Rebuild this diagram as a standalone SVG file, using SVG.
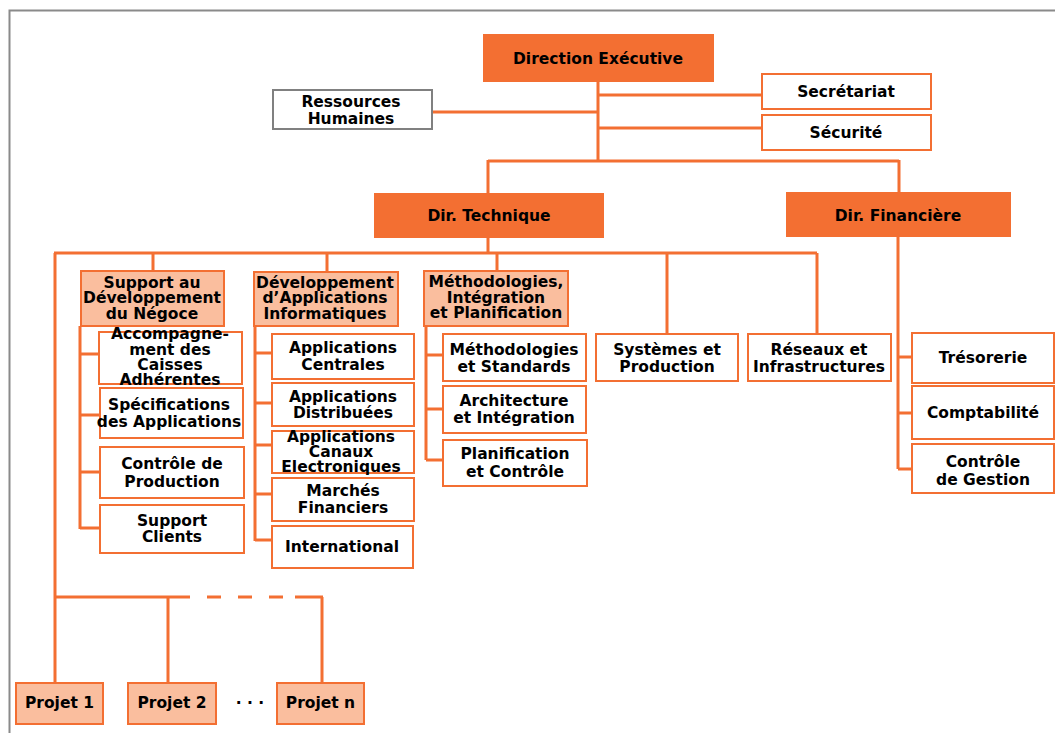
<svg xmlns="http://www.w3.org/2000/svg" width="1055" height="733" viewBox="0 0 1055 733">
<style>
text{font-family:"DejaVu Sans","Verdana",sans-serif;font-weight:bold;font-size:15.5px;fill:#000;text-anchor:middle}
.dark{fill:#F36F32;stroke:#F36F32;stroke-width:2}
.light{fill:#FABE9E;stroke:#F36F32;stroke-width:2}
.box{fill:#fff;stroke:#F36F32;stroke-width:2}
.gray{fill:#fff;stroke:#808080;stroke-width:2}
.ln{stroke:#F36F32;stroke-width:3;fill:none}
</style>
<rect width="1055" height="733" fill="#fff"/>
<path d="M9.5 733V10.5H1055" fill="none" stroke="#8a8a8a" stroke-width="2"/>
<g id="connectors" class="ln">
<path d="M598 81V161M488 161H899M488 160V194M899 160V193"/>
<path d="M432 112H598M598 95H762M598 128H762"/>
<path d="M488 237V253M54 253H817M153 253V271M327 253V272M497 253V271M667 253V334M817 253V334"/>
<path d="M55 253V683"/>
<path d="M80 326V529M80 354H99M80 415H100M80 472H100M80 528H100"/>
<path d="M255 326V541M255 353H272M255 403H272M255 445H272M255 494H272M255 540H272"/>
<path d="M426 326V460M426 355H443M426 409H443M426 460H443"/>
<path d="M898 236V469M898 357H912M898 413H912M898 469H912"/>
<path d="M55 597H190M295 597H323"/>
<path d="M190 597H295" stroke-dasharray="0 17 14 17 14 17 14 12"/>
<path d="M168 597V683M322 597V683"/>
</g>
<g id="direction"><rect class="dark" x="484" y="35" width="229" height="46"/><text x="598" y="64">Direction Exécutive</text></g>
<g id="rh"><rect class="gray" x="273" y="90" width="159" height="39"/><text x="351" y="107">Ressources</text><text x="351" y="124">Humaines</text></g>
<g id="secretariat"><rect class="box" x="762" y="74" width="169" height="35"/><text x="846" y="97">Secrétariat</text></g>
<g id="securite"><rect class="box" x="762" y="115" width="169" height="35"/><text x="846" y="138">Sécurité</text></g>
<g id="dirtech"><rect class="dark" x="375" y="194" width="228" height="43"/><text x="489" y="221">Dir. Technique</text></g>
<g id="dirfin"><rect class="dark" x="787" y="193" width="223" height="43"/><text x="898" y="221">Dir. Financière</text></g>
<g id="support"><rect class="light" x="81" y="271" width="143" height="55"/><text x="152" y="288">Support au</text><text x="152" y="303">Développement</text><text x="152" y="319">du Négoce</text></g>
<g id="devapp"><rect class="light" x="254" y="272" width="144" height="54"/><text x="325" y="288">Développement</text><text x="325" y="303">d’Applications</text><text x="325" y="319">Informatiques</text></g>
<g id="methint"><rect class="light" x="424" y="271" width="144" height="55"/><text x="496" y="287">Méthodologies,</text><text x="496" y="303">Intégration</text><text x="496" y="318">et Planification</text></g>
<g id="accomp"><rect class="box" x="99" y="332" width="143" height="52"/><text x="170" y="339">Accompagne-</text><text x="170" y="355">ment des</text><text x="170" y="370">Caisses</text><text x="170" y="385">Adhérentes</text></g>
<g id="specs"><rect class="box" x="100" y="388" width="143" height="50"/><text x="169" y="410">Spécifications</text><text x="169" y="427">des Applications</text></g>
<g id="controleprod"><rect class="box" x="100" y="447" width="144" height="51"/><text x="172" y="469">Contrôle de</text><text x="172" y="487">Production</text></g>
<g id="supportclients"><rect class="box" x="100" y="505" width="144" height="48"/><text x="172" y="526">Support</text><text x="172" y="542">Clients</text></g>
<g id="appcentrales"><rect class="box" x="272" y="334" width="142" height="45"/><text x="343" y="353">Applications</text><text x="343" y="370">Centrales</text></g>
<g id="appdistrib"><rect class="box" x="272" y="383" width="142" height="43"/><text x="343" y="402">Applications</text><text x="343" y="418">Distribuées</text></g>
<g id="appcanaux"><rect class="box" x="272" y="431" width="142" height="42"/><text x="341" y="442">Applications</text><text x="341" y="457">Canaux</text><text x="341" y="472">Electroniques</text></g>
<g id="marches"><rect class="box" x="272" y="478" width="142" height="43"/><text x="343" y="496">Marchés</text><text x="343" y="513">Financiers</text></g>
<g id="international"><rect class="box" x="272" y="526" width="141" height="42"/><text x="342" y="552">International</text></g>
<g id="methstd"><rect class="box" x="443" y="334" width="143" height="47"/><text x="514" y="355">Méthodologies</text><text x="514" y="372">et Standards</text></g>
<g id="archi"><rect class="box" x="443" y="386" width="143" height="47"/><text x="514" y="406">Architecture</text><text x="514" y="423">et Intégration</text></g>
<g id="planif"><rect class="box" x="443" y="440" width="144" height="46"/><text x="515" y="459">Planification</text><text x="515" y="477">et Contrôle</text></g>
<g id="systemes"><rect class="box" x="596" y="334" width="142" height="47"/><text x="667" y="355">Systèmes et</text><text x="667" y="372">Production</text></g>
<g id="reseaux"><rect class="box" x="748" y="334" width="143" height="47"/><text x="819" y="355">Réseaux et</text><text x="819" y="372">Infrastructures</text></g>
<g id="tresorerie"><rect class="box" x="912" y="333" width="142" height="50"/><text x="983" y="363">Trésorerie</text></g>
<g id="compta"><rect class="box" x="912" y="386" width="142" height="53"/><text x="983" y="418">Comptabilité</text></g>
<g id="controlegestion"><rect class="box" x="912" y="444" width="142" height="49"/><text x="983" y="467">Contrôle</text><text x="983" y="485">de Gestion</text></g>
<g id="projet1"><rect class="light" x="16" y="683" width="87" height="41"/><text x="59.5" y="708">Projet 1</text></g>
<g id="projet2"><rect class="light" x="128" y="683" width="88" height="41"/><text x="172" y="708">Projet 2</text></g>
<g id="dots"><text x="250" y="708">· · ·</text></g>
<g id="projetn"><rect class="light" x="277" y="683" width="87" height="41"/><text x="320.5" y="708">Projet n</text></g>
</svg>
